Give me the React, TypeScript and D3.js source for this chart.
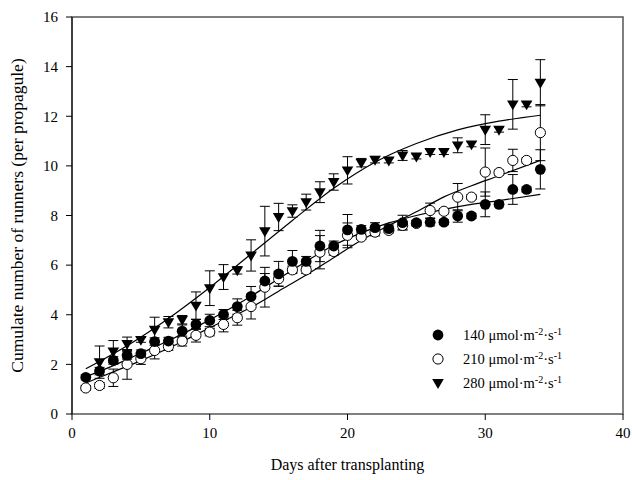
import React from "react";
import * as d3 from "d3";

const days = [1,2,3,4,5,6,7,8,9,10,11,12,13,14,15,16,17,18,19,20,21,22,23,24,25,26,27,28,29,30,31,32,33,34];

const s140 = [1.48,1.73,2.16,2.36,2.43,2.92,2.94,3.34,3.61,3.77,4.01,4.33,4.74,5.36,5.65,6.15,6.15,6.77,6.77,7.42,7.44,7.51,7.47,7.71,7.71,7.73,7.73,7.98,7.98,8.45,8.45,9.05,9.05,9.86];
const e140 = [0.1,0.15,0.15,0.15,0.15,0.15,0.15,0.25,0.2,0.25,0.2,0.31,0.4,0.3,0.5,0.44,0.2,0.63,0.2,0.62,0.15,0.2,0.15,0.3,0.1,0.15,0.1,0.25,0.1,0.5,0.1,0.6,0.1,0.79];

const s210 = [1.05,1.15,1.46,2.0,2.23,2.56,2.72,2.94,3.17,3.3,3.61,3.88,4.33,5.11,5.45,5.81,5.81,6.52,6.55,7.2,7.13,7.33,7.4,7.6,7.68,8.2,8.17,8.74,8.74,9.75,9.73,10.22,10.22,11.34];
const e210 = [0.1,0.12,0.35,0.6,0.23,0.34,0.15,0.2,0.27,0.15,0.3,0.3,0.5,0.8,0.3,0.15,0.15,0.67,0.15,0.5,0.1,0.15,0.1,0.15,0.1,0.3,0.1,0.55,0.1,0.97,0.1,0.45,0.1,1.13];

const s280 = [null,2.09,2.52,2.83,2.99,3.4,3.7,3.8,4.37,5.07,5.52,5.79,6.39,7.37,7.94,8.18,8.54,8.94,9.35,9.82,10.13,10.25,10.22,10.42,10.38,10.56,10.56,10.83,10.87,11.46,11.46,12.48,12.48,13.35];
const e280 = [0,0.65,0.44,0.27,0.1,0.5,0.23,0.17,0.55,0.7,0.5,0.15,0.63,1.0,0.55,0.25,0.32,0.42,0.33,0.55,0.17,0.13,0.1,0.2,0.1,0.1,0.1,0.3,0.1,0.6,0.1,1.0,0.1,0.93];

const fitDays140 = [1,3,5,7,9,11,13,15,17,19,21,23,25,27,29,31,34];
const fit140 = [1.5,1.95,2.45,2.95,3.5,4.1,4.75,5.45,6.15,6.8,7.3,7.7,8.0,8.25,8.45,8.6,8.85];
const fitDays210 = [1,3,5,7,9,11,13,15,17,19,21,23,25,27,29,31,34];
const fit210 = [1.25,1.7,2.15,2.65,3.2,3.75,4.3,4.95,5.6,6.3,7.0,7.6,8.15,8.75,9.2,9.6,10.22];
const fitDays280 = [1,4,7,10,13,16,19,22,25,28,31,34];
const fit280 = [1.82,2.75,3.85,5.1,6.45,7.8,9.1,10.15,10.9,11.45,11.8,12.04];

const xTicks = [0,10,20,30,40];
const yTicks = [0,2,4,6,8,10,12,14,16];
const legendLabels = ["140", "210", "280"];

const W = 632, H = 480;
const m = { left: 72, right: 623, top: 17, bottom: 414 };

export default function App() {
  const x = d3.scaleLinear().domain([0, 40]).range([m.left, m.right]);
  const y = d3.scaleLinear().domain([0, 16]).range([m.bottom, m.top]);
  const line = d3.line<[number, number]>().x(d => x(d[0])).y(d => y(d[1])).curve(d3.curveMonotoneX);
  const font = "'Liberation Serif', 'Times New Roman', serif";

  const tri = "M-5.8,-3.9L5.8,-3.9L0,6Z";

  const errBars = (vals: (number|null)[], errs: number[], key: string) =>
    days.map((d, i) => {
      const v = vals[i];
      if (v == null || errs[i] <= 0) return null;
      const cx = x(d), y1 = y(v + errs[i]), y2 = y(v - errs[i]);
      return (
        <g key={key + i} stroke="#000" strokeWidth={1}>
          <line x1={cx} x2={cx} y1={y1} y2={y2} />
          <line x1={cx - 5} x2={cx + 5} y1={y1} y2={y1} />
          <line x1={cx - 5} x2={cx + 5} y1={y2} y2={y2} />
        </g>
      );
    });

  const fits: [number[], number[]][] = [[fitDays140, fit140], [fitDays210, fit210], [fitDays280, fit280]];

  return (
    <svg width={W} height={H} style={{ position: "absolute", left: 0, top: 0 }} fontFamily={font}>
      <rect x={0} y={0} width={W} height={H} fill="#fff" />
      <rect x={m.left} y={m.top} width={m.right - m.left} height={m.bottom - m.top} fill="none" stroke="#555" strokeWidth={1.5} />
      <line x1={m.left} x2={m.left} y1={m.top} y2={m.bottom} stroke="#000" strokeWidth={1} />
      {yTicks.map(t => (
        <g key={"y" + t}>
          <line x1={m.left - 6} x2={m.left} y1={y(t)} y2={y(t)} stroke="#000" />
          <text x={m.left - 14} y={y(t)} dy="0.35em" textAnchor="end" fontSize={15}>{t}</text>
        </g>
      ))}
      {xTicks.map(t => (
        <g key={"x" + t}>
          <line x1={x(t)} x2={x(t)} y1={m.bottom} y2={m.bottom + 6} stroke="#000" />
          <text x={x(t)} y={m.bottom + 24} textAnchor="middle" fontSize={15}>{t}</text>
        </g>
      ))}
      <text x={(m.left + m.right) / 2} y={470} textAnchor="middle" fontSize={16}>Days after transplanting</text>
      <text transform={`translate(23,${(m.top + m.bottom) / 2}) rotate(-90)`} textAnchor="middle" fontSize={17.5}>Cumulate number of runners (per propagule)</text>

      {fits.map((f, k) => (
        <path key={"f" + k} d={line(f[0].map((d, i) => [d, f[1][i]] as [number, number])) || ""} fill="none" stroke="#000" strokeWidth={1.2} />
      ))}

      {errBars(s280, e280, "e280")}
      {errBars(s210, e210, "e210")}
      {errBars(s140, e140, "e140")}

      {days.map((d, i) => s280[i] == null ? null : (
        <path key={"t" + i} d={tri} transform={`translate(${x(d)},${y(s280[i] as number)})`} fill="#000" />
      ))}
      {days.map((d, i) => (
        <circle key={"o" + i} cx={x(d)} cy={y(s210[i])} r={5.1} fill="#fff" stroke="#000" strokeWidth={1} />
      ))}
      {days.map((d, i) => (
        <circle key={"c" + i} cx={x(d)} cy={y(s140[i])} r={5.4} fill="#000" />
      ))}

      {legendLabels.map((lab, i) => {
        const ly = 335 + i * 24;
        return (
          <g key={"l" + i}>
            {i === 0 && <circle cx={438} cy={ly} r={5.4} fill="#000" />}
            {i === 1 && <circle cx={438} cy={ly} r={5.1} fill="#fff" stroke="#000" />}
            {i === 2 && <path d={tri} transform={`translate(438,${ly})`} fill="#000" />}
            <text x={463} y={ly} dy="0.35em" fontSize={14.5}>
              {lab} μmol·m<tspan dy={-5} fontSize={10}>-2</tspan><tspan dy={5}>·s</tspan><tspan dy={-5} fontSize={10}>-1</tspan>
            </text>
          </g>
        );
      })}
    </svg>
  );
}
